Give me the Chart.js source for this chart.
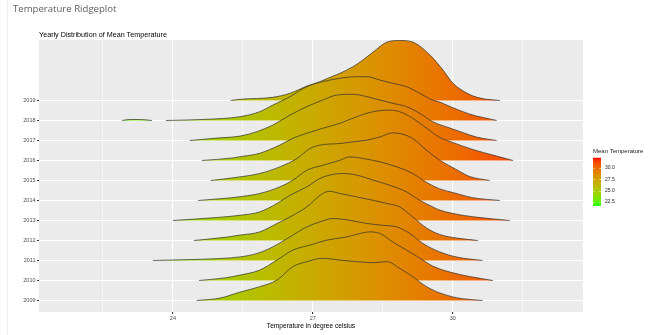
<!DOCTYPE html>
<html>
<head>
<meta charset="utf-8">
<script src="https://cdn.jsdelivr.net/npm/chart.js@4.4.0/dist/chart.umd.min.js"></script>
<style>
  html, body { margin: 0; padding: 0; background: #fff; }
  #wrap { position: relative; width: 654px; height: 335px; overflow: hidden; }
  #ridge { position: absolute; left: 0; top: 0; }
  #edge { position: absolute; left: 7px; top: 0; width: 1px; height: 335px; background: #eeeeee; }
  #pageTitle { position: absolute; left: 13px; top: 2px; font-family: 'Open Sans', sans-serif; font-size: 9.6px; line-height: 14px; color: #5e5e5e; white-space: nowrap; }
</style>
</head>
<body>
<div id="wrap">
  <canvas id="ridge" width="654" height="335"></canvas>
  <div id="edge"></div>
  <div id="pageTitle">Temperature Ridgeplot</div>
</div>
<script>
// years on the y axis, bottom to top
const years = [2009, 2010, 2011, 2012, 2013, 2014, 2015, 2016, 2017, 2018, 2019];

// x axis
const xTicks = [24, 27, 30];
const xMinor = [22.5, 25.5, 28.5, 31.5];

// legend
const legendTicks = [22.5, 25.0, 27.5, 30.0];
const fillLimits = [21.66, 32.26];

// ridge shapes: [temperature, height in rows]
const r2009 = [[24.51,0],[25.01,0.12],[25.44,0.42],[25.86,0.69],[26.23,1.02],[26.57,1.69],[26.87,1.94],[27.21,2.11],[27.58,2.02],[27.94,1.94],[28.29,1.89],[28.59,1.94],[28.86,1.61],[29.14,1.19],[29.44,0.69],[29.72,0.38],[30.00,0.18],[30.21,0.09],[30.64,0]];
const r2010 = [[24.56,0],[25.11,0.13],[25.44,0.27],[25.86,0.52],[26.23,1.02],[26.57,1.52],[26.94,1.77],[27.30,2.02],[27.73,2.18],[28.01,2.35],[28.22,2.43],[28.44,2.35],[28.71,1.93],[29.01,1.52],[29.29,1.12],[29.57,0.72],[29.94,0.42],[30.36,0.20],[30.86,0]];
const r2011 = [[23.57,0],[24.43,0.05],[25.01,0.10],[25.44,0.18],[25.80,0.35],[26.14,0.68],[26.51,1.18],[26.87,1.68],[27.15,1.93],[27.43,2.10],[27.79,2.01],[28.16,1.85],[28.50,1.76],[28.80,1.68],[29.08,1.35],[29.36,0.85],[29.72,0.43],[30.09,0.17],[30.64,0]];
const r2012 = [[24.45,0],[25.16,0.17],[25.44,0.27],[25.86,0.43],[26.23,0.85],[26.51,1.18],[26.87,1.68],[27.21,2.35],[27.36,2.46],[27.58,2.35],[27.94,2.18],[28.29,2.01],[28.59,1.85],[28.86,1.68],[29.14,1.18],[29.44,0.62],[29.72,0.30],[30.09,0.12],[30.54,0]];
const r2013 = [[24.00,0],[24.94,0.15],[25.44,0.26],[25.86,0.43],[26.23,0.85],[26.51,1.26],[26.87,1.68],[27.15,2.10],[27.36,2.27],[27.64,2.35],[27.94,2.27],[28.29,2.02],[28.65,1.76],[29.01,1.43],[29.29,1.01],[29.57,0.68],[29.72,0.52],[30.21,0.26],[30.73,0.11],[31.22,0]];
const r2014 = [[24.54,0],[25.07,0.10],[25.44,0.19],[25.86,0.35],[26.29,0.68],[26.57,1.01],[26.87,1.51],[27.21,1.76],[27.58,2.01],[27.79,2.18],[28.07,2.10],[28.44,1.93],[28.80,1.68],[29.14,1.35],[29.44,0.90],[29.72,0.58],[30.00,0.40],[30.43,0.14],[31.01,0]];
const r2015 = [[24.81,0],[25.37,0.16],[25.86,0.35],[26.29,0.68],[26.66,1.10],[26.94,1.60],[27.15,1.77],[27.58,1.85],[27.86,1.93],[28.16,2.02],[28.44,2.18],[28.71,2.38],[28.93,2.31],[29.14,2.10],[29.44,1.51],[29.72,1.01],[29.94,0.72],[30.15,0.45],[30.36,0.20],[30.79,0]];
const r2016 = [[24.62,0],[25.29,0.13],[25.44,0.19],[25.86,0.36],[26.29,0.77],[26.57,1.11],[26.87,1.36],[27.21,1.61],[27.58,1.86],[27.94,2.19],[28.29,2.44],[28.65,2.52],[28.86,2.44],[29.14,2.11],[29.44,1.61],[29.72,1.15],[29.94,0.95],[30.43,0.55],[30.94,0.22],[31.29,0]];
const r2017 = [[24.36,0],[24.94,0.12],[25.44,0.22],[25.80,0.44],[26.14,0.77],[26.51,1.27],[26.87,1.69],[27.21,2.02],[27.51,2.27],[27.86,2.31],[28.16,2.19],[28.44,2.02],[28.71,1.86],[29.01,1.69],[29.29,1.36],[29.57,0.94],[29.94,0.62],[30.21,0.40],[30.51,0.17],[30.94,0]];
const r2018 = [[22.91,0],[23.08,0.05],[23.29,0.05],[23.55,0],[23.70,null],[23.85,0],[24.73,0.06],[25.44,0.19],[25.86,0.44],[26.14,0.77],[26.51,1.19],[26.87,1.69],[27.21,1.94],[27.58,2.11],[27.94,2.19],[28.16,2.19],[28.44,2.02],[28.71,1.86],[29.01,1.69],[29.29,1.36],[29.57,1.02],[29.72,0.92],[29.94,0.70],[30.36,0.32],[30.94,0]];
const r2019 = [[25.24,0],[25.44,0.06],[26.14,0.16],[26.51,0.36],[26.87,0.72],[27.15,0.94],[27.32,1.11],[27.58,1.36],[27.86,1.69],[28.07,2.02],[28.29,2.42],[28.59,2.92],[28.86,3.00],[29.14,2.92],[29.51,2.27],[29.79,1.52],[30.00,0.87],[30.30,0.37],[30.58,0.12],[31.01,0]];

const ridges = [r2009, r2010, r2011, r2012, r2013, r2014, r2015, r2016, r2017, r2018, r2019];

// green -> red, mixed in Lab like ggplot does
const lowCol = [0, 255, 0];
const highCol = [255, 0, 0];

function toLin(c) { c /= 255; return c <= 0.04045 ? c / 12.92 : Math.pow((c + 0.055) / 1.055, 2.4); }
function fromLin(c) { c = c <= 0.0031308 ? 12.92 * c : 1.055 * Math.pow(c, 1 / 2.4) - 0.055; return Math.max(0, Math.min(255, Math.round(c * 255))); }
function rgbToLab(rgb) {
    const [r, g, b] = rgb.map(toLin);
    const x = (0.4124 * r + 0.3576 * g + 0.1805 * b) / 0.95047;
    const y = 0.2126 * r + 0.7152 * g + 0.0722 * b;
    const z = (0.0193 * r + 0.1192 * g + 0.9505 * b) / 1.08883;
    const f = t => t > 0.008856 ? Math.cbrt(t) : 7.787 * t + 16 / 116;
    return [116 * f(y) - 16, 500 * (f(x) - f(y)), 200 * (f(y) - f(z))];
}
function labToRgb(lab) {
    const fy = (lab[0] + 16) / 116, fx = fy + lab[1] / 500, fz = fy - lab[2] / 200;
    const inv = t => t * t * t > 0.008856 ? t * t * t : (t - 16 / 116) / 7.787;
    const x = inv(fx) * 0.95047, y = inv(fy), z = inv(fz) * 1.08883;
    const r = 3.2406 * x - 1.5372 * y - 0.4986 * z;
    const g = -0.9689 * x + 1.8758 * y + 0.0415 * z;
    const b = 0.0557 * x - 0.2040 * y + 1.0570 * z;
    return 'rgb(' + fromLin(r) + ',' + fromLin(g) + ',' + fromLin(b) + ')';
}
const labLow = rgbToLab(lowCol), labHigh = rgbToLab(highCol);
function mixColour(f) {
    return labToRgb(labLow.map((v, i) => v + (labHigh[i] - v) * f));
}

function addStops(g) {
    for (let k = 0; k <= 20; k++) g.addColorStop(k / 20, mixColour(k / 20));
    return g;
}

function ridgeFill(context) {
    const chart = context.chart;
    const xs = chart.scales.x;
    if (!chart.chartArea || !xs) return '#c0b000';
    const g = chart.ctx.createLinearGradient(xs.getPixelForValue(fillLimits[0]), 0, xs.getPixelForValue(fillLimits[1]), 0);
    return addStops(g);
}

// grey panel, subtitle and colour bar
const ggExtras = {
    id: 'ggExtras',
    beforeDraw(chart) {
        const { ctx, chartArea: a } = chart;
        ctx.save();
        ctx.fillStyle = '#EBEBEB';
        ctx.fillRect(a.left, a.top, a.right - a.left, a.bottom - a.top);
        ctx.restore();
    },
    afterDraw(chart) {
        const ctx = chart.ctx;
        ctx.save();
        ctx.fillStyle = '#000';
        ctx.font = '7.2px "Liberation Sans", Arial, sans-serif';
        ctx.textBaseline = 'alphabetic';
        ctx.fillText('Yearly Distribution of Mean Temperature', 39, 36.5);

        // legend
        const vToY = v => 168 - (v - 30) * 4.533;
        const barX = 593, barW = 8;
        const top = vToY(fillLimits[1]), bot = vToY(fillLimits[0]);
        const g = ctx.createLinearGradient(0, bot, 0, top);
        addStops(g);
        ctx.fillStyle = g;
        ctx.fillRect(barX, top, barW, bot - top);

        ctx.strokeStyle = '#fff';
        ctx.lineWidth = 0.6;
        legendTicks.forEach(v => {
            const y = Math.round(vToY(v)) + 0.5;
            ctx.beginPath();
            ctx.moveTo(barX, y); ctx.lineTo(barX + 1.6, y);
            ctx.moveTo(barX + barW - 1.6, y); ctx.lineTo(barX + barW, y);
            ctx.stroke();
        });

        ctx.fillStyle = '#1a1a1a';
        ctx.font = '6px "Liberation Sans", Arial, sans-serif';
        ctx.textBaseline = 'middle';
        ctx.fillText('Mean Temperature', barX, 151);
        ctx.font = '5px "Liberation Sans", Arial, sans-serif';
        legendTicks.forEach(v => ctx.fillText(v.toFixed(1), barX + barW + 4, vToY(v)));
        ctx.restore();
    }
};

const datasets = ridges.map((pts, i) => ({
    label: String(years[i]),
    data: pts.map(p => ({ x: p[0], y: p[1] === null ? null : i + p[1] })),
    fill: { value: i },
    backgroundColor: ridgeFill,
    borderColor: '#2e2e2e',
    borderWidth: 0.7,
    pointRadius: 0,
    cubicInterpolationMode: 'monotone',
    spanGaps: false
}));

const axisFont = { family: '"Liberation Sans", Arial, sans-serif', size: 5.5 };

new Chart(document.getElementById('ridge'), {
    type: 'line',
    data: { datasets },
    options: {
        responsive: false,
        animation: false,
        layout: { padding: { left: 0, top: 40, right: 71, bottom: 0 } },
        plugins: { legend: { display: false }, tooltip: { enabled: false } },
        scales: {
            x: {
                type: 'linear',
                min: 21.13,
                max: 32.79,
                afterBuildTicks: s => { s.ticks = xMinor.concat(xTicks).sort((a, b) => a - b).map(v => ({ value: v })); },
                afterFit: s => { s.height = 23; },
                ticks: {
                    autoSkip: false,
                    maxRotation: 0,
                    padding: 1.5,
                    color: '#4D4D4D',
                    font: axisFont,
                    callback: v => xTicks.includes(v) ? String(v) : ''
                },
                grid: {
                    color: '#ffffff',
                    lineWidth: c => xTicks.includes(c.tick.value) ? 1.1 : 0.55,
                    tickLength: 2,
                    tickColor: c => xTicks.includes(c.tick.value) ? '#333333' : 'rgba(0,0,0,0)'
                },
                border: { display: false },
                title: {
                    display: true,
                    text: 'Temperature in degree celsius',
                    color: '#000',
                    font: { family: '"Liberation Sans", Arial, sans-serif', size: 6.6 },
                    padding: { top: 0, bottom: 5 }
                }
            },
            y: {
                type: 'linear',
                min: -0.575,
                max: 13.025,
                afterBuildTicks: s => { s.ticks = years.map((_, i) => ({ value: i })); },
                afterFit: s => { s.width = 39; },
                ticks: {
                    autoSkip: false,
                    padding: 1.5,
                    color: '#4D4D4D',
                    font: axisFont,
                    callback: v => years[v]
                },
                grid: {
                    color: '#ffffff',
                    lineWidth: 1.1,
                    tickLength: 2,
                    tickColor: '#333333'
                },
                border: { display: false }
            }
        }
    },
    plugins: [ggExtras]
});
</script>
</body>
</html>
